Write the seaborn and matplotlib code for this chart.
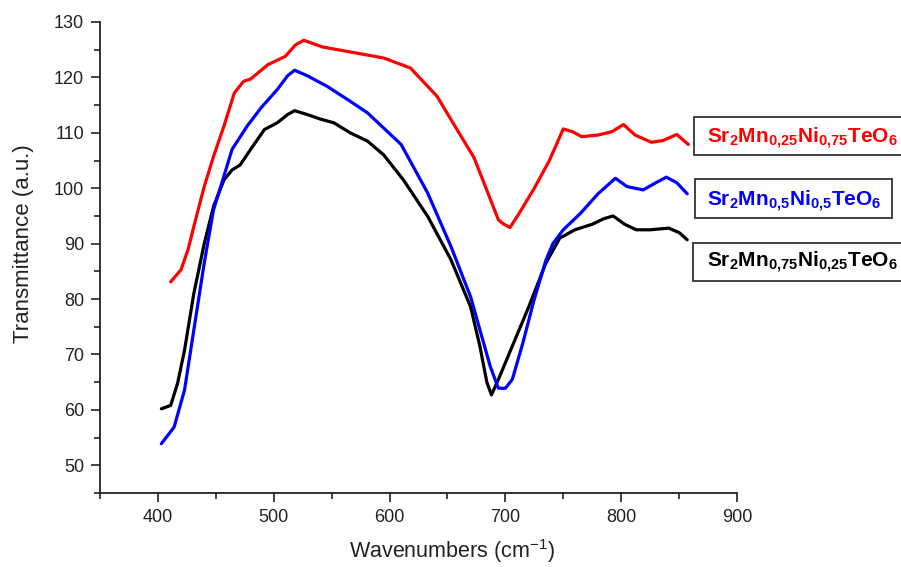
import matplotlib
matplotlib.use("Agg")
import matplotlib.pyplot as plt
import seaborn as sns
import pandas as pd
from matplotlib.ticker import MultipleLocator
from matplotlib.patches import Rectangle

# ---- data ----
red_x = [411, 420, 426, 431, 440, 448, 457, 466, 474, 480, 495, 510, 519, 526, 542,
         566, 595, 618, 641, 653, 673, 694, 698, 704, 712, 725, 738, 750, 758, 766,
         780, 792, 802, 812, 826, 836, 848, 858]
red_y = [83.1, 85.3, 88.9, 93.1, 100.3, 105.7, 111.2, 117.2, 119.3, 119.7, 122.3, 123.8,
         125.9, 126.7, 125.5, 124.6, 123.5, 121.7, 116.6, 112.4, 105.5, 94.3, 93.6, 92.9,
         95.5, 100.0, 105.0, 110.7, 110.2, 109.3, 109.6, 110.2, 111.5, 109.6, 108.3, 108.6,
         109.7, 107.9]

blue_x = [403, 414, 423, 431, 440, 448, 456, 464, 477, 489, 503, 512, 518, 529, 546,
          566, 581, 610, 633, 653, 670, 687, 694, 700, 706, 715, 725, 735, 741, 750,
          765, 780, 795, 805, 819, 830, 839, 848, 857]
blue_y = [53.9, 56.9, 63.6, 74.4, 86.5, 96.1, 101.5, 107.0, 111.2, 114.5, 117.8, 120.3,
          121.3, 120.3, 118.4, 115.7, 113.6, 107.9, 99.1, 89.5, 80.4, 67.8, 63.9, 63.9,
          65.5, 72.0, 80.0, 87.0, 90.0, 92.5, 95.5, 99.0, 101.8, 100.3, 99.7, 101.0,
          102.0, 101.0, 99.0]

black_x = [403, 411, 417, 423, 431, 440, 448, 457, 464, 471, 480, 492, 503, 512, 518,
           529, 540, 552, 566, 581, 595, 612, 633, 653, 670, 678, 684, 688, 694, 705, 720,
           735, 747, 760, 775, 785, 793, 803, 813, 825, 841, 850, 857]
black_y = [60.2, 60.8, 64.8, 70.8, 81.0, 90.0, 96.7, 101.5, 103.3, 104.2, 107.0, 110.6,
           111.8, 113.3, 114.0, 113.3, 112.5, 111.8, 110.0, 108.5, 106.0, 101.5, 94.9,
           87.1, 78.6, 71.5, 65.0, 62.7, 65.5, 71.0, 78.5, 86.5, 91.0, 92.5, 93.5, 94.5,
           95.0, 93.5, 92.5, 92.5, 92.8, 92.0, 90.7]

labels = [r"$\mathbf{Sr_2Mn_{0{,}25}Ni_{0{,}75}TeO_6}$",
          r"$\mathbf{Sr_2Mn_{0{,}5}Ni_{0{,}5}TeO_6}$",
          r"$\mathbf{Sr_2Mn_{0{,}75}Ni_{0{,}25}TeO_6}$"]
colors = ["#ff0000", "#0000ff", "#000000"]

xticks = [400, 500, 600, 700, 800, 900]
yticks = [50, 60, 70, 80, 90, 100, 110, 120, 130]

sns.set_style("ticks")
plt.rcParams["font.family"] = ["Liberation Sans", "DejaVu Sans"]
plt.rcParams["mathtext.fontset"] = "custom"
plt.rcParams["mathtext.bf"] = "Liberation Sans:bold"
plt.rcParams["mathtext.rm"] = "Liberation Sans"

W, H = 901, 567
fig = plt.figure(figsize=(W / 100, H / 100), dpi=100)
ax = fig.add_axes([100 / W, 1 - 493 / H, 637 / W, 471 / H])

series = [(black_x, black_y, colors[2]), (blue_x, blue_y, colors[1]), (red_x, red_y, colors[0])]
for xs, ys, c in series:
    df = pd.DataFrame({"x": xs, "y": ys})
    sns.lineplot(data=df, x="x", y="y", ax=ax, color=c, linewidth=2.3,
                 estimator=None, sort=False)

ax.set_xlim(350, 900)
ax.set_ylim(45, 130)
ax.set_xticks(xticks)
ax.set_yticks(yticks)
ax.xaxis.set_minor_locator(MultipleLocator(50))
ax.yaxis.set_minor_locator(MultipleLocator(5))
for s in ["top", "right"]:
    ax.spines[s].set_visible(False)
for s in ["left", "bottom"]:
    ax.spines[s].set_linewidth(1.3)
    ax.spines[s].set_color("#222222")
ax.tick_params(which="major", direction="out", length=6.5, width=1.2, color="#222222",
               labelsize=13, labelcolor="#222222", pad=5)
ax.tick_params(which="minor", direction="out", length=4.5, width=1.2, color="#222222")

ax.set_xlabel("Wavenumbers (cm$^{-1}$)", fontsize=15.5, color="#222222")
ax.xaxis.set_label_coords(352 / 637, -44 / 471)
ax.set_ylabel("Transmittance (a.u.)", fontsize=16, color="#222222")
ax.yaxis.set_label_coords(-66 / 637, (493 - 244) / 471)

# legend boxes (pixel boxes -> figure fraction)
boxes = [(694, 117, 215, 38), (695, 179, 197, 39), (693, 243, 215, 38)]
baselines = [143, 206, 267]
for (bx, by, bw, bh), base, lab, c in zip(boxes, baselines, labels, colors):
    fig.patches.append(Rectangle((bx / W, 1 - (by + bh) / H), bw / W, bh / H,
                                 transform=fig.transFigure, fill=True, fc="white",
                                 ec="#333333", lw=1.3, clip_on=False))
    fig.text(707 / W, 1 - base / H, lab, color=c, fontsize=15,
             ha="left", va="baseline")

fig.savefig("out.png", dpi=100)
